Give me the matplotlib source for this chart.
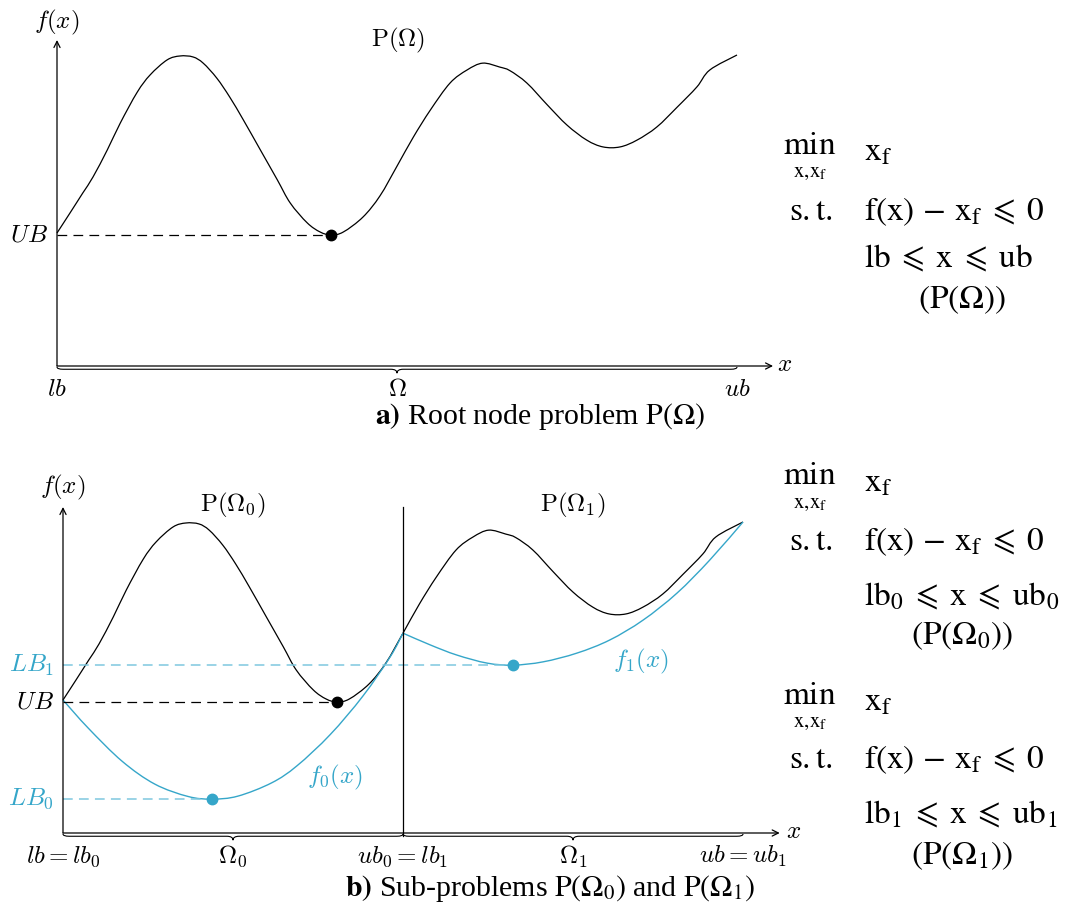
import matplotlib
matplotlib.use("Agg")
import matplotlib.pyplot as plt
from matplotlib.path import Path
from matplotlib.patches import PathPatch

plt.rcParams['mathtext.fontset'] = 'cm'
plt.rcParams['lines.scale_dashes'] = False

# f(x) (x: lb=0 .. ub=10)
f_x = [0, 0.19, 0.38, 0.53, 0.74, 0.93, 1.18, 1.37, 1.62, 1.81, 2.00, 2.15, 2.35, 2.54,
       2.74, 2.99, 3.24, 3.43, 3.68, 3.87, 4.03, 4.21, 4.50, 4.75, 5.00, 5.24, 5.49, 5.78,
       6.03, 6.26, 6.51, 6.66, 6.91, 7.21, 7.50, 7.79, 8.03, 8.28, 8.53, 8.82, 9.12, 9.41,
       9.60, 10.0]
f_y = [4.08, 4.69, 5.31, 5.80, 6.63, 7.45, 8.40, 8.93, 9.39, 9.51, 9.48, 9.29, 8.83, 8.25,
       7.55, 6.63, 5.71, 5.00, 4.39, 4.11, 4.02, 4.11, 4.57, 5.22, 6.13, 7.02, 7.85, 8.68,
       9.08, 9.29, 9.17, 9.06, 8.68, 8.01, 7.39, 6.93, 6.72, 6.72, 6.93, 7.33, 7.94, 8.56,
       9.08, 9.54]

# convex underestimators on the two sub-domains
f0_x = [0, 0.37, 0.87, 1.35, 1.84, 2.19, 2.57, 3.07, 3.44, 3.93, 4.41, 4.81, 5.0]
f0_y = [4.08, 3.22, 2.20, 1.50, 1.12, 1.04, 1.13, 1.54, 2.06, 3.02, 4.20, 5.40, 6.13]
f1_x = [5.0, 5.40, 5.79, 6.24, 6.62, 7.06, 7.56, 8.04, 8.53, 9.03, 9.51, 10.0]
f1_y = [6.13, 5.77, 5.46, 5.21, 5.15, 5.25, 5.52, 5.92, 6.53, 7.36, 8.37, 9.54]

lb, ub, split = 0.0, 10.0, 5.0
x_best, UB = 4.03, 4.02
x_lb0, LB0 = 2.19, 1.04
x_lb1, LB1 = 6.62, 5.15

blue = '#35a6c9'
blue_dash = '#7ec8df'
W, H = 1072, 916


def smooth(ax, xs, ys, **kw):
    # smooth curve through the points, like tikz "plot[smooth]"
    pts = list(zip(xs, ys))
    verts, codes = [pts[0]], [Path.MOVETO]
    for i in range(len(pts) - 1):
        p0 = pts[max(i - 1, 0)]
        p1, p2 = pts[i], pts[i + 1]
        p3 = pts[min(i + 2, len(pts) - 1)]
        c1 = (p1[0] + (p2[0] - p0[0]) / 6, p1[1] + (p2[1] - p0[1]) / 6)
        c2 = (p2[0] - (p3[0] - p1[0]) / 6, p2[1] - (p3[1] - p1[1]) / 6)
        verts += [c1, c2, p2]
        codes += [Path.CURVE4] * 3
    ax.add_patch(PathPatch(Path(verts, codes), fc='none', **kw))


def brace(ax, x0, x1):
    mid = (x0 + x1) / 2
    y0, y1, y2, r = -0.03, -0.1, -0.22, 0.09
    verts = [(x0, y0), (x0, y1), (x0 + r, y1), (mid - r, y1), (mid, y1), (mid, y2),
             (mid, y1), (mid + r, y1), (x1 - r, y1), (x1, y1), (x1, y0)]
    codes = [Path.MOVETO, Path.CURVE3, Path.CURVE3, Path.LINETO, Path.CURVE3, Path.CURVE3,
             Path.CURVE3, Path.CURVE3, Path.LINETO, Path.CURVE3, Path.CURVE3]
    ax.add_patch(PathPatch(Path(verts, codes), fc='none', ec='black', lw=0.8))


def arrow_axes(ax, xend):
    ap = dict(arrowstyle='->', lw=0.9, shrinkA=0, shrinkB=0, mutation_scale=11)
    ax.annotate('', xy=(0, 10.0), xytext=(0, 0), arrowprops=ap, annotation_clip=False)
    ax.annotate('', xy=(xend, 0), xytext=(0, 0), arrowprops=ap, annotation_clip=False)


def ftext(x, y, s, **kw):
    fig.text(x / W, 1 - y / H, s, **kw)


fig = plt.figure(figsize=(10.72, 9.16), dpi=100)
dash = (0, (7, 4.5))
lab = dict(fontsize=18, ha='center', va='center')
labr = dict(fontsize=18, ha='right', va='center')

# ---- a) root node
ax1 = fig.add_axes([0, (H - 400) / H, 760 / W, 380 / H])
ax1.set_xlim(-57 / 68, (760 - 57) / 68)
ax1.set_ylim(-34 / 32.6, 346 / 32.6)
ax1.axis('off')
arrow_axes(ax1, 10.53)
brace(ax1, lb, ub)
smooth(ax1, f_x, f_y, ec='black', lw=0.9)
ax1.plot([lb, x_best], [UB, UB], color='black', lw=0.9, ls=dash)
ax1.plot([x_best], [UB], 'o', color='black', ms=7.5)

ax1.text(0, 10.55, r'$f(x)$', **lab)
ax1.text(5.01, 10.0, r'$\mathrm{P}(\Omega)$', **lab)
ax1.text(-0.14, UB, r'$UB$', **labr)
ax1.text(lb, -0.72, r'$lb$', **lab)
ax1.text(5.0, -0.72, r'$\Omega$', **lab)
ax1.text(ub, -0.72, r'$ub$', **lab)
ax1.text(10.7, 0.05, r'$x$', **lab)

# ---- b) sub-problems
ax2 = fig.add_axes([0, (H - 870) / H, 800 / W, 400 / H])
ax2.set_xlim(-63 / 68, (800 - 63) / 68)
ax2.set_ylim(-37 / 32.6, 363 / 32.6)
ax2.axis('off')
arrow_axes(ax2, 10.54)
brace(ax2, lb, split)
brace(ax2, split, ub)
ax2.plot([split, split], [-0.1, 10.0], color='black', lw=0.9)
smooth(ax2, f_x, f_y, ec='black', lw=0.9)
smooth(ax2, f0_x, f0_y, ec=blue, lw=1.0)
smooth(ax2, f1_x, f1_y, ec=blue, lw=1.0)
ax2.plot([lb, x_lb1], [LB1, LB1], color=blue_dash, lw=1.1, ls=dash, zorder=1)
ax2.plot([lb, x_best], [UB, UB], color='black', lw=0.9, ls=dash)
ax2.plot([lb, x_lb0], [LB0, LB0], color=blue_dash, lw=1.1, ls=dash, zorder=1)
ax2.plot([x_best], [UB], 'o', color='black', ms=7.5)
ax2.plot([x_lb0, x_lb1], [LB0, LB1], 'o', color=blue, ms=7.5, ls='none')

ax2.text(0, 10.6, r'$f(x)$', **lab)
ax2.text(2.5, 10.06, r'$\mathrm{P}(\Omega_0)$', **lab)
ax2.text(7.5, 10.06, r'$\mathrm{P}(\Omega_1)$', **lab)
ax2.text(-0.13, LB1, r'$LB_1$', color=blue, **labr)
ax2.text(-0.13, UB, r'$UB$', **labr)
ax2.text(-0.13, LB0, r'$LB_0$', color=blue, **labr)
ax2.text(4.0, 1.69, r'$f_0(x)$', color=blue, **lab)
ax2.text(8.5, 5.25, r'$f_1(x)$', color=blue, **lab)
ax2.text(lb, -0.72, r'$lb = lb_0$', **lab)
ax2.text(2.5, -0.72, r'$\Omega_0$', **lab)
ax2.text(split, -0.72, r'$ub_0 = lb_1$', **lab)
ax2.text(7.5, -0.72, r'$\Omega_1$', **lab)
ax2.text(ub, -0.72, r'$ub = ub_1$', **lab)
ax2.text(10.74, 0.05, r'$x$', **lab)

# ---- captions
cap = dict(fontsize=21.5, ha='center', va='center', family='Liberation Serif',
           math_fontfamily='stix')
ftext(540, 417, r'$\mathbf{a)}$ Root node problem $\mathrm{P}(\Omega)$', **cap)
ftext(550, 888, r'$\mathbf{b)}$ Sub-problems $\mathrm{P}(\Omega_0)$ and $\mathrm{P}(\Omega_1)$', **cap)

# ---- optimisation problems on the right
mk = dict(fontsize=24, va='center', math_fontfamily='stix')


def problem(y_min, y_st, y_box, y_tag, sub):
    ftext(810, y_min - 3, r'$\mathrm{min}$', ha='center', **mk)
    ftext(810, y_min + 25, r'$\mathrm{x},\!\mathrm{x}_\mathrm{f}$', ha='center',
          fontsize=15, va='center', math_fontfamily='stix')
    ftext(864, y_min + 4, r'$\mathrm{x}_\mathrm{f}$', ha='left', **mk)
    ftext(811, y_st, r'$\mathrm{s.t.}$', ha='center', **mk)
    ftext(864, y_st, r'$\mathrm{f}(\mathrm{x})\,-\,\mathrm{x}_\mathrm{f}\;\leqslant\;0$',
          ha='left', **mk)
    ftext(864, y_box, r'$\mathrm{lb}%s\;\leqslant\;\mathrm{x}\;\leqslant\;\mathrm{ub}%s$' % (sub, sub),
          ha='left', **mk)
    ftext(962, y_tag, r'$(\mathrm{P}(\Omega%s))$' % sub, ha='center', **mk)


problem(147, 211, 258, 299, '')
problem(478, 541, 596, 635, '_0')
problem(697, 759, 814, 855, '_1')

fig.savefig('out.png', dpi=100)
